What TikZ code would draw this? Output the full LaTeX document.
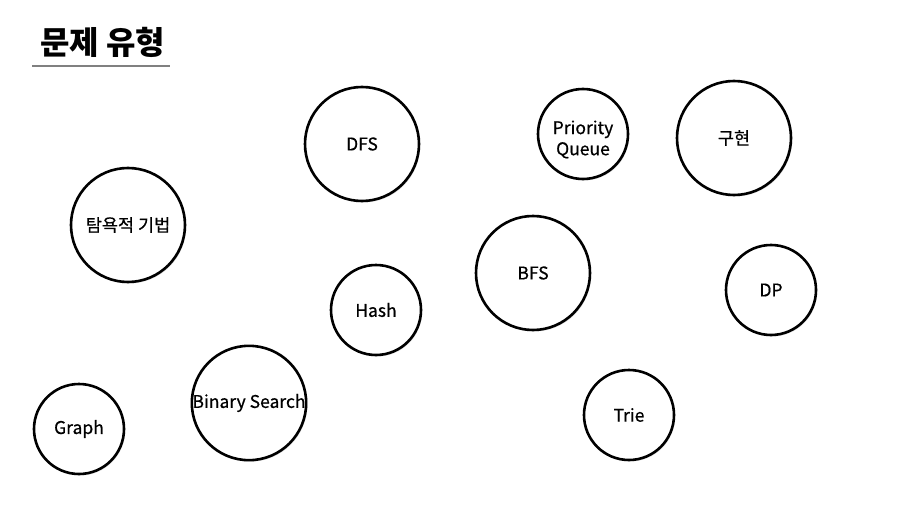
\documentclass[tikz,border=0pt]{standalone}
\usepackage{fontspec}
\setmainfont{Noto Sans CJK KR}
\newfontfamily\topicfont[FakeBold=0.6]{Noto Sans CJK KR}
\usetikzlibrary{shadows}

\begin{document}
\begin{tikzpicture}[x=1pt,y=-1pt,
    topic/.style={circle,draw,line width=2.6pt,fill=white,inner sep=0pt,
      align=center,font=\topicfont\fontsize{17.5}{20}\selectfont,
      drop shadow={shadow xshift=1.2pt,shadow yshift=-1.5pt,opacity=0.25}},
    big/.style={topic,minimum size=114pt},
    small/.style={topic,minimum size=90pt}]
  \useasboundingbox (0,0) rectangle (907,508);
  % title with its rule
  \node[anchor=west,inner sep=0pt,font=\fontsize{32}{36}\bfseries\selectfont] (title) at (40,42) {문제 유형};
  \draw[gray,line width=1.2pt] (32,66) -- (170,66);
  % large circles
  \node[big] (dfs) at (362,144) {DFS};
  \node[big] (impl) at (734,138) {구현};
  \node[big] (greedy) at (128,225) {탐욕적 기법};
  \node[big] (bfs) at (533,273) {BFS};
  \node[big] (bsearch) at (249,403) {Binary Search};
  % small circles (the two-line label sits a little low)
  \node[small] (pq) at (583,134) {\raisebox{-5.5pt}[\height][\depth]{\shortstack{Priority\\[1pt]Queue}}};
  \node[small] (hash) at (376,310) {Hash};
  \node[small] (dp) at (771,290) {DP};
  \node[small] (graph) at (79,429) {Graph};
  \node[small] (trie) at (629,415) {Trie};
\end{tikzpicture}
\end{document}
